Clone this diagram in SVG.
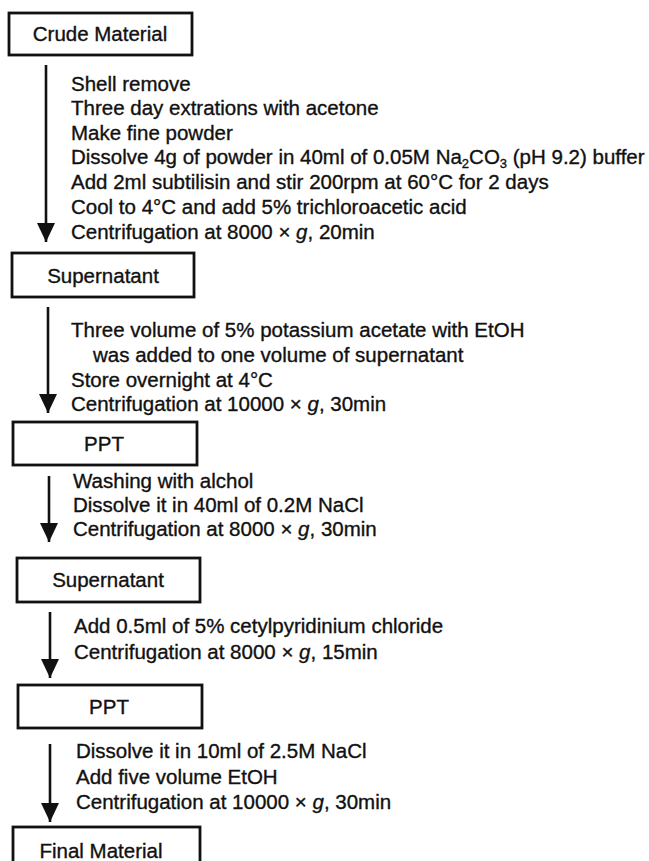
<svg xmlns="http://www.w3.org/2000/svg" width="649" height="861" viewBox="0 0 649 861">
<defs>
<style>
text{font-family:"Liberation Sans",Arial,sans-serif;font-size:20.5px;fill:#111;stroke:#111;stroke-width:0.35;}
.box{fill:#fff;stroke:#111;stroke-width:2.8;}
.lbl{text-anchor:middle;}
.ln{stroke:#111;stroke-width:2.6;fill:none;}
.sub{font-size:13px;}
</style>
<marker id="ah" viewBox="0 0 20 20" refX="19" refY="10" markerWidth="20" markerHeight="20" markerUnits="userSpaceOnUse" orient="auto">
<path d="M0,1 L19,10 L0,19 Z" fill="#111"/>
</marker>
</defs>
<rect width="649" height="861" fill="#fff"/>
<g id="connectors">
<line class="ln" x1="46" y1="65" x2="46" y2="242" marker-end="url(#ah)"/>
<line class="ln" x1="48" y1="307" x2="48" y2="413" marker-end="url(#ah)"/>
<line class="ln" x1="49" y1="476" x2="49" y2="542" marker-end="url(#ah)"/>
<line class="ln" x1="50" y1="612" x2="50" y2="678" marker-end="url(#ah)"/>
<line class="ln" x1="50" y1="744" x2="50" y2="822" marker-end="url(#ah)"/>
</g>
<g id="n1"><rect class="box" x="9" y="13" width="183" height="42"/><text class="lbl" x="100" y="41">Crude Material</text></g>
<g id="n2"><rect class="box" x="12" y="253" width="182" height="44"/><text class="lbl" x="103" y="283">Supernatant</text></g>
<g id="n3"><rect class="box" x="13" y="422" width="184" height="43"/><text class="lbl" x="104" y="451">PPT</text></g>
<g id="n4"><rect class="box" x="17" y="558" width="183" height="44"/><text class="lbl" x="108" y="587">Supernatant</text></g>
<g id="n5"><rect class="box" x="18" y="685" width="184" height="43"/><text class="lbl" x="109" y="714">PPT</text></g>
<g id="n6"><rect class="box" x="13" y="827" width="187" height="46"/><text class="lbl" x="101" y="858">Final Material</text></g>
<g id="steps1">
<text x="71" y="91">Shell remove</text>
<text x="71" y="115">Three day extrations with acetone</text>
<text x="71" y="140">Make fine powder</text>
<text x="71" y="164">Dissolve 4g of powder in 40ml of 0.05M Na<tspan class="sub" dy="4">2</tspan><tspan dy="-4">CO</tspan><tspan class="sub" dy="4">3</tspan><tspan dy="-4"> (pH 9.2) buffer</tspan></text>
<text x="71" y="189">Add 2ml subtilisin and stir 200rpm at 60°C for 2 days</text>
<text x="71" y="214">Cool to 4°C and add 5% trichloroacetic acid</text>
<text x="71" y="239">Centrifugation at 8000 × <tspan font-style="italic">g</tspan>, 20min</text>
</g>
<g id="steps2">
<text x="71" y="337">Three volume of 5% potassium acetate with EtOH</text>
<text x="93" y="362">was added to one volume of supernatant</text>
<text x="71" y="387">Store overnight at 4°C</text>
<text x="71" y="411">Centrifugation at 10000 × <tspan font-style="italic">g</tspan>, 30min</text>
</g>
<g id="steps3">
<text x="73" y="488">Washing with alchol</text>
<text x="73" y="512">Dissolve it in 40ml of 0.2M NaCl</text>
<text x="73" y="536">Centrifugation at 8000 × <tspan font-style="italic">g</tspan>, 30min</text>
</g>
<g id="steps4">
<text x="74" y="633">Add 0.5ml of 5% cetylpyridinium chloride</text>
<text x="74" y="659">Centrifugation at 8000 × <tspan font-style="italic">g</tspan>, 15min</text>
</g>
<g id="steps5">
<text x="76" y="758">Dissolve it in 10ml of 2.5M NaCl</text>
<text x="76" y="784">Add five volume EtOH</text>
<text x="76" y="809">Centrifugation at 10000 × <tspan font-style="italic">g</tspan>, 30min</text>
</g>
</svg>
